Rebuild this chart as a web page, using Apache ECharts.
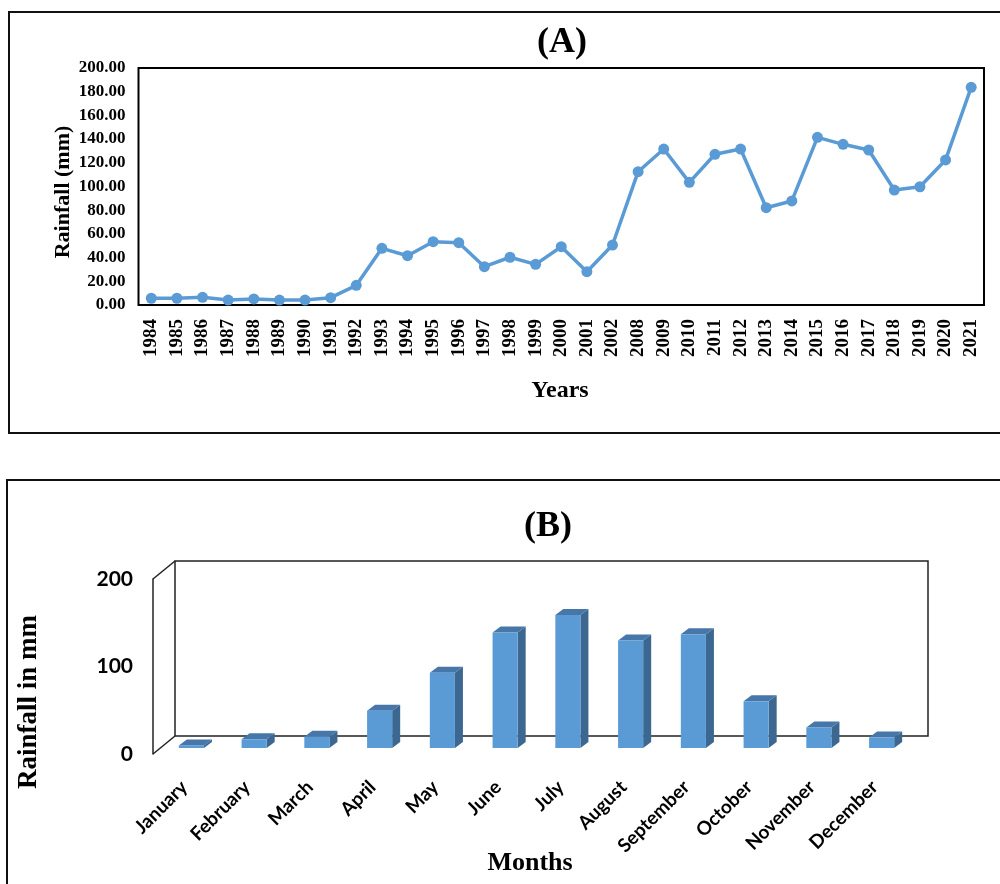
<!DOCTYPE html>
<html>
<head>
<meta charset="utf-8">
<script src="https://cdn.jsdelivr.net/npm/echarts@6/dist/echarts.min.js"></script>
<style>
  html, body { margin: 0; padding: 0; background: #fff; }
  #main { width: 1000px; height: 884px; }
</style>
</head>
<body>
<div id="main"></div>
<script>
// (A) yearly rainfall
const years = ['1984', '1985', '1986', '1987', '1988', '1989', '1990', '1991', '1992', '1993',
  '1994', '1995', '1996', '1997', '1998', '1999', '2000', '2001', '2002', '2008', '2009',
  '2010', '2011', '2012', '2013', '2014', '2015', '2016', '2017', '2018', '2019', '2020', '2021'];
const yearlyRainfall = [5.7, 5.7, 6.5, 4.2, 5.1, 4.2, 4.2, 6.2, 16.6, 47.8,
  41.6, 53.4, 52.6, 32.3, 40.3, 34.3, 49.2, 28.1, 50.6, 112.5, 131.6,
  103.5, 127.2, 131.6, 82.1, 87.8, 141.5, 135.6, 130.8, 97, 99.8, 122.4, 183.7];

// (B) monthly rainfall
const months = ['January', 'February', 'March', 'April', 'May', 'June', 'July',
  'August', 'September', 'October', 'November', 'December'];
const monthlyRainfall = [3, 10, 13, 42.5, 86, 132, 152, 123, 130, 53.5, 23.5, 12];

const serif = 'Liberation Serif';
const sans = 'Lato';
const blue = '#5B9BD5';

// 3d frame of chart B: front wall, back wall, bar plane
const wallW = 753, wallH = 175;
const front = { left: 153, top: 579 };
const back = { left: 175, top: 561 };
const barPlane = { left: 160, top: 573 };
const depthX = 8, depthY = 6;

const chart = echarts.init(document.getElementById('main'));

function renderBar3d(params, api) {
  const topPt = api.coord([api.value(0), api.value(1)]);
  const basePt = api.coord([api.value(0), 0]);
  const bw = api.size([1, 0])[0] * 0.4;
  const x0 = topPt[0] - bw / 2, x1 = topPt[0] + bw / 2;
  const yt = topPt[1], yb = basePt[1];
  return {
    type: 'group',
    children: [
      {
        type: 'polygon',
        shape: { points: [[x1, yt], [x1 + depthX, yt - depthY], [x1 + depthX, yb - depthY], [x1, yb]] },
        style: { fill: '#3C6790' }
      },
      {
        type: 'polygon',
        shape: { points: [[x0, yt], [x0 + depthX, yt - depthY], [x1 + depthX, yt - depthY], [x1, yt]] },
        style: { fill: '#4677A8' }
      },
      {
        type: 'rect',
        shape: { x: x0, y: yt, width: bw, height: yb - yt },
        style: { fill: blue }
      }
    ]
  };
}

const option = {
  backgroundColor: '#fff',
  animation: false,
  grid: [
    { left: 138.5, top: 68, width: 845.5, height: 237, show: true, borderColor: '#000', borderWidth: 2, backgroundColor: 'transparent' },
    { left: barPlane.left, top: barPlane.top, width: wallW, height: wallH },
    { left: front.left, top: front.top, width: wallW, height: wallH },
    { left: back.left, top: back.top, width: wallW, height: wallH, show: true, borderColor: '#222', borderWidth: 1.5, backgroundColor: 'transparent' }
  ],
  xAxis: [
    {
      gridIndex: 0, type: 'category', data: years,
      axisLine: { show: false }, axisTick: { show: false },
      axisLabel: { interval: 0, rotate: 90, margin: 14, color: '#000', fontFamily: serif, fontWeight: 'bold', fontSize: 19 }
    },
    { gridIndex: 1, type: 'category', data: months, show: false },
    {
      gridIndex: 2, type: 'category', data: months,
      axisLine: { show: false }, axisTick: { show: false },
      axisLabel: { interval: 0, rotate: 45, margin: 30, color: '#000', fontFamily: sans, fontWeight: 'bold', fontSize: 19 }
    },
    { gridIndex: 3, type: 'category', data: months, show: false }
  ],
  yAxis: [
    {
      gridIndex: 0, type: 'value', min: 0, max: 200, interval: 20,
      axisLine: { show: false }, axisTick: { show: false }, splitLine: { show: false },
      axisLabel: { margin: 13, color: '#000', fontFamily: serif, fontWeight: 'bold', fontSize: 17, formatter: v => v.toFixed(2) }
    },
    { gridIndex: 1, type: 'value', min: 0, max: 200, show: false },
    {
      gridIndex: 2, type: 'value', min: 0, max: 200, interval: 100,
      axisLine: { show: true, lineStyle: { color: '#222', width: 1.5 } },
      axisTick: { show: false }, splitLine: { show: false },
      axisLabel: { margin: 20, color: '#000', fontFamily: sans, fontWeight: 'bold', fontSize: 21 }
    },
    { gridIndex: 3, type: 'value', min: 0, max: 200, show: false }
  ],
  series: [
    {
      type: 'line', xAxisIndex: 0, yAxisIndex: 0, data: yearlyRainfall,
      symbol: 'circle', symbolSize: 11,
      lineStyle: { color: blue, width: 3.5 },
      itemStyle: { color: blue }
    },
    {
      type: 'custom', xAxisIndex: 1, yAxisIndex: 1,
      data: monthlyRainfall.map((v, i) => [i, v]),
      renderItem: renderBar3d
    }
  ],
  graphic: [
    { type: 'rect', shape: { x: 9, y: 12, width: 1000, height: 421 }, style: { fill: 'none', stroke: '#111', lineWidth: 2 } },
    { type: 'rect', shape: { x: 7, y: 480, width: 1010, height: 420 }, style: { fill: 'none', stroke: '#111', lineWidth: 2 } },
    { type: 'text', x: 562, y: 43, style: { text: '(A)', fontFamily: serif, fontWeight: 'bold', fontSize: 36, fill: '#000', textAlign: 'center', textVerticalAlign: 'middle' } },
    { type: 'text', x: 560, y: 391, style: { text: 'Years', fontFamily: serif, fontWeight: 'bold', fontSize: 24, fill: '#000', textAlign: 'center', textVerticalAlign: 'middle' } },
    { type: 'text', x: 63, y: 192, rotation: Math.PI / 2, style: { text: 'Rainfall (mm)', fontFamily: serif, fontWeight: 'bold', fontSize: 22, fill: '#000', textAlign: 'center', textVerticalAlign: 'middle' } },
    { type: 'text', x: 548, y: 527, style: { text: '(B)', fontFamily: serif, fontWeight: 'bold', fontSize: 36, fill: '#000', textAlign: 'center', textVerticalAlign: 'middle' } },
    { type: 'text', x: 530, y: 863, style: { text: 'Months', fontFamily: serif, fontWeight: 'bold', fontSize: 26, fill: '#000', textAlign: 'center', textVerticalAlign: 'middle' } },
    { type: 'text', x: 29, y: 702, rotation: Math.PI / 2, style: { text: 'Rainfall in mm', fontFamily: serif, fontWeight: 'bold', fontSize: 27, fill: '#000', textAlign: 'center', textVerticalAlign: 'middle' } },
    // side edges joining front and back walls
    { type: 'line', shape: { x1: front.left, y1: front.top, x2: back.left, y2: back.top }, style: { stroke: '#222', lineWidth: 1.5 } },
    { type: 'line', shape: { x1: front.left, y1: front.top + wallH, x2: back.left, y2: back.top + wallH }, style: { stroke: '#222', lineWidth: 1.5 } }
  ]
};

chart.setOption(option);
</script>
</body>
</html>
